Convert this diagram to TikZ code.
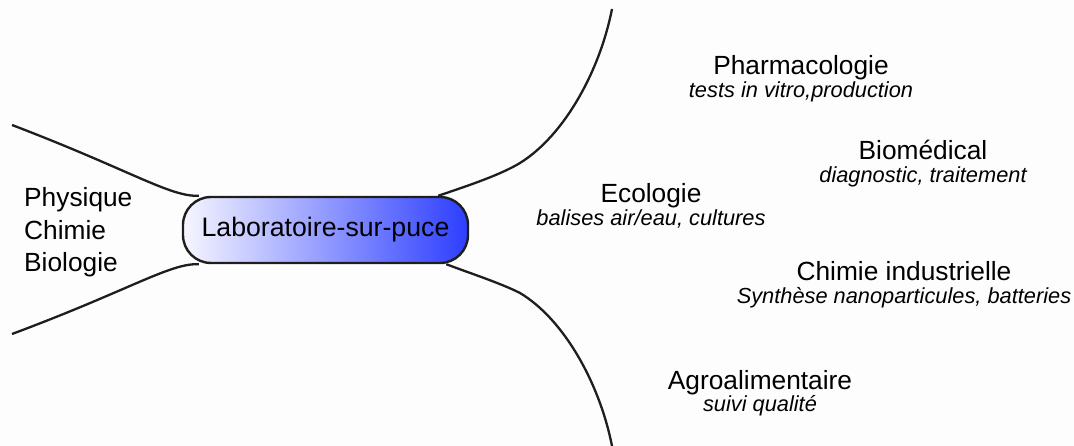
\documentclass[tikz,border=0pt]{standalone}
\usepackage{fontspec}
\setmainfont{Liberation Sans}

\definecolor{bgcol}{RGB}{253,253,253}
\definecolor{linecol}{RGB}{30,30,30}
\definecolor{boxleft}{RGB}{246,246,255}
\definecolor{boxright}{RGB}{45,62,255}

\begin{document}
\begin{tikzpicture}[x=1pt, y=-1pt,
  field/.style={anchor=base, inner sep=0pt, font=\fontsize{26.3}{30}\selectfont},
  usage/.style={anchor=base, inner sep=0pt, font=\fontsize{21.8}{25}\selectfont\itshape},
  branch/.style={draw=linecol, line width=2.3pt}]
\fill[bgcol] (0,0) rectangle (1074,446);
\useasboundingbox (0,0) rectangle (1074,446);

% central node
\node[draw=linecol, line width=2.4pt, rounded corners=28pt, minimum width=285pt, minimum height=66pt,
  left color=boxleft, right color=boxright, font=\fontsize{26.7}{30}\selectfont] (lab) at (325.5,230) {Laboratoire-sur-puce};

% sciences on the left
\node[anchor=base west, inner sep=0pt, align=left, font=\fontsize{26.3}{32.5}\selectfont] (sci) at (24,272) {Physique\\Chimie\\Biologie};

% fields of application
\node[field] (pharma) at (801,75) {Pharmacologie};
\node[usage] (pharmasub) at ([yshift=-23pt]pharma.base) {tests in vitro,production};
\node[field] (biomed) at (923,160) {Biomédical};
\node[usage] (biomedsub) at ([yshift=-23pt]biomed.base) {diagnostic, traitement};
\node[field] (eco) at (651,203) {Ecologie};
\node[usage] (ecosub) at ([yshift=-23pt]eco.base) {balises air/eau, cultures};
\node[field] (chim) at (904,281) {Chimie industrielle};
\node[usage] (chimsub) at ([yshift=-23pt]chim.base) {Synthèse nanoparticules, batteries};
\node[field] (agro) at (760,389) {Agroalimentaire};
\node[usage] (agrosub) at ([yshift=-22pt]agro.base) {suivi qualité};

% branches
\coordinate (nw) at (12,125);
\coordinate (sw) at (12,334);
\coordinate (ne) at (612,9);
\coordinate (se) at (612,446);

\draw[branch] ([xshift=17pt]lab.north west) .. controls (170,197) and (130,170) .. (nw);
\draw[branch] ([xshift=17pt]lab.south west) .. controls (170,263) and (130,290) .. (sw);
\draw[branch] ([xshift=-31pt]lab.north east) .. controls (470,185) and (500,175) .. (520,163)
  .. controls (565,135) and (600,70) .. (ne);
\draw[branch] ([xshift=-23pt]lab.south east) .. controls (475,275) and (500,283) .. (520,293)
  .. controls (565,320) and (600,385) .. (se);
\end{tikzpicture}
\end{document}
